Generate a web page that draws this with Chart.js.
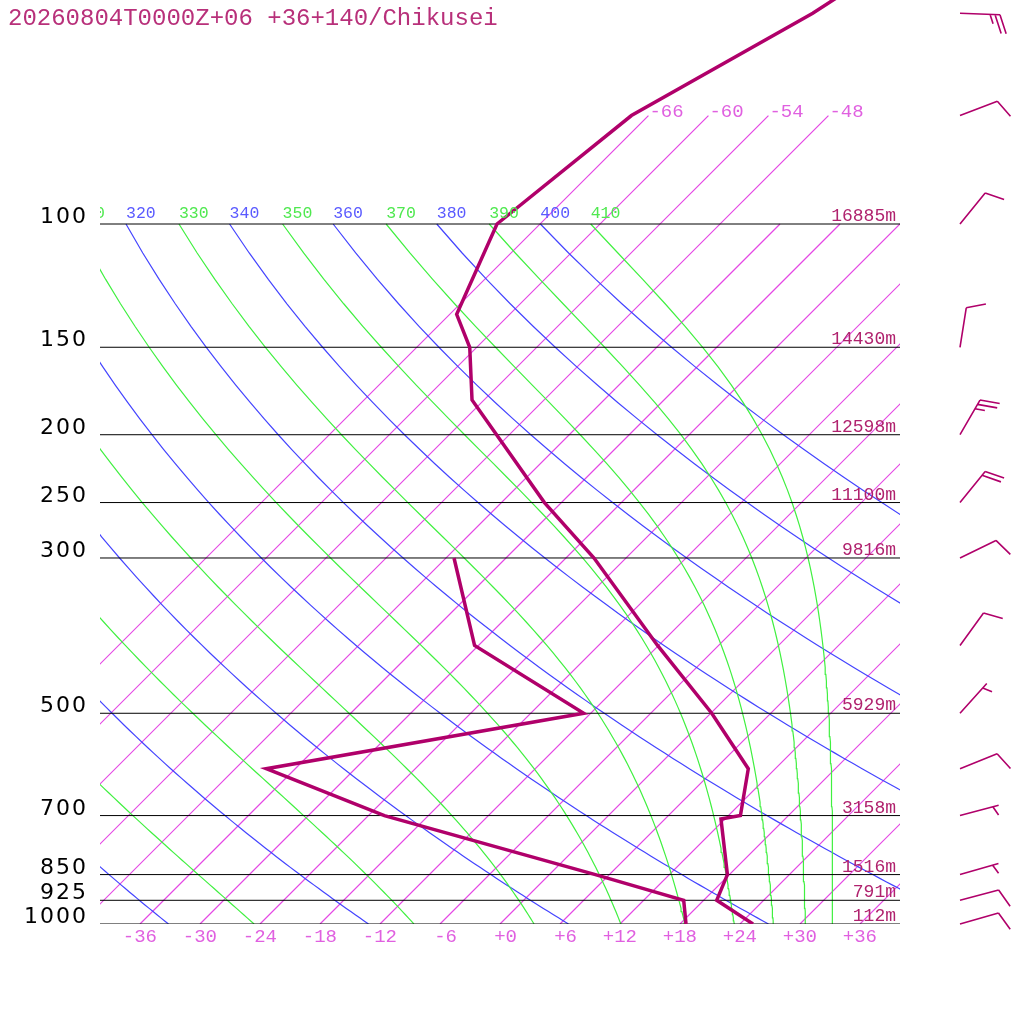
<!DOCTYPE html>
<html><head><meta charset="utf-8">
<script src="https://cdn.jsdelivr.net/npm/chart.js@4.4.1/dist/chart.umd.min.js"></script>
<style>html,body{margin:0;padding:0;background:#fff;}#wrap{width:1024px;height:1024px;}</style>
</head><body><div id="wrap"><canvas id="c" width="1024" height="1024"></canvas></div>
<script>
// ---------- data ----------
const titleText = "20260804T0000Z+06 +36+140/Chikusei";
const tempP = [30, 50, 70, 100, 134.6, 150, 178.4, 250, 300, 400, 500, 600, 700, 708, 850, 925, 1000];
const tempT = [-51.4, -59.8, -67.7, -70.3, -65.3, -60.7, -55.2, -37.7, -27.2, -12.1, 0.1, 9.3, 13.2, 11.6, 17.8, 19.3, 25.3];
const dewP = [300, 400, 500, 600, 700, 850, 925, 1000];
const dewT = [-41.2, -30.4, -12.7, -38.9, -22.4, 4.6, 16.0, 18.6];
const levelP = [100, 150, 200, 250, 300, 500, 700, 850, 925, 1000];
const levelLabels = ["100", "150", "200", "250", "300", "500", "700", "850", "925", "1000"];
const heightLabels = ["16885m", "14430m", "12598m", "11100m", "9816m", "5929m", "3158m", "1516m", "791m", "112m"];
const windP = [50, 70, 100, 150, 200, 250, 300, 400, 500, 600, 700, 850, 925, 1000];
const windDir = [92, 69, 39, 9, 30, 39, 64, 36, 42, 68, 75, 74, 75, 74];
const windSpd = [25, 10, 10, 10, 25, 20, 10, 10, 5, 10, 5, 5, 10, 10];
const isoT = [-66, -60, -54, -48, -42, -36, -30, -24, -18, -12, -6, 0, 6, 12, 18, 24, 30, 36];
const isoTopLabelT = [-66, -60, -54, -48];
const tickT = [-36, -30, -24, -18, -12, -6, 0, 6, 12, 18, 24, 30, 36];
const tickLabels = ["-36", "-30", "-24", "-18", "-12", "-6", "+0", "+6", "+12", "+18", "+24", "+30", "+36"];
const thetaDry = [240, 260, 280, 300, 320, 340, 360, 380, 400];
const thetaMoist = [250, 270, 290, 310, 330, 350, 370, 390, 410];

// ---------- diagram geometry ----------
const P_BOTTOM = 1000, P_ADIA_TOP = 100, P_ISO_TOP = 70;
const SKEW = 70; // degrees of skew per decade of pressure
const P_TOP = 1000 / Math.pow(10, 924 / 700);
function sx(T, p) { return T + SKEW * Math.log10(1000 / p); }

const pGrid = [];
for (let p = P_BOTTOM; p >= P_ADIA_TOP; p -= 10) pGrid.push(p);

function dryT(theta, p) { return theta * Math.pow(p / 1000, 0.2857) - 273.15; }
function thetaEB(Tc, p) {
  const TK = Tc + 273.15;
  const es = 6.112 * Math.exp(17.67 * Tc / (Tc + 243.5));
  if (es >= p * 0.9) return 1e9;
  const r = 622 * es / (p - es);
  return TK * Math.pow(1000 / p, 0.2854 * (1 - 0.00028 * r)) * Math.exp((3.376 / TK - 0.00254) * r * (1 + 0.00081 * r));
}
function moistT(thE, p) {
  let lo = -160, hi = 60;
  for (let i = 0; i < 60; i++) {
    const m = (lo + hi) / 2;
    if (thetaEB(m, p) < thE) lo = m; else hi = m;
  }
  return (lo + hi) / 2;
}

const COL = {
  profile: 'rgb(176,0,106)', iso: 'rgb(228,72,228)', dry: 'rgb(68,68,255)', moist: 'rgb(64,240,64)',
  isoLab: 'rgb(224,96,224)', dryLab: 'rgb(90,90,255)', moistLab: 'rgb(79,232,79)', hgt: 'rgb(176,34,110)', title: 'rgb(184,48,122)'
};

const datasets = [];
function addLine(points, color, width, order) {
  datasets.push({ data: points, borderColor: color, backgroundColor: color, borderWidth: width, pointRadius: 0,
    showLine: true, fill: false, tension: 0, order: order });
}
isoT.forEach(T => {
  const top = isoTopLabelT.includes(T) ? P_ISO_TOP : P_ADIA_TOP;
  addLine([{ x: sx(T, P_BOTTOM), y: P_BOTTOM }, { x: sx(T, top), y: top }], COL.iso, 1.2, 5);
});
thetaDry.forEach(th => addLine(pGrid.map(p => ({ x: sx(dryT(th, p), p), y: p })), COL.dry, 1.2, 4));
thetaMoist.forEach(th => addLine(pGrid.map(p => ({ x: sx(moistT(th, p), p), y: p })), COL.moist, 1.2, 3));
levelP.forEach(p => addLine([{ x: -40, y: p }, { x: 40, y: p }], 'rgb(0,0,0)', 1, 2));
addLine(dewP.map((p, i) => ({ x: sx(dewT[i], p), y: p })), COL.profile, 3.5, 1);
addLine(tempP.map((p, i) => ({ x: sx(tempT[i], p), y: p })), COL.profile, 3.5, 0);

const textPlugin = {
  id: 'skewtText',
  afterDraw(chart) {
    const ctx = chart.ctx, xs = chart.scales.x, ys = chart.scales.y, ca = chart.chartArea;
    ctx.save();
    ctx.font = '24px "Liberation Mono", monospace';
    ctx.fillStyle = COL.title; ctx.textAlign = 'left'; ctx.textBaseline = 'alphabetic';
    ctx.fillText(titleText, 8, 25);
    ctx.font = '22px "DejaVu Sans", sans-serif';
    ctx.letterSpacing = '2px';
    ctx.fillStyle = '#000'; ctx.textAlign = 'right';
    levelP.forEach((p, i) => ctx.fillText(levelLabels[i], 88, ys.getPixelForValue(p) - 1));
    ctx.letterSpacing = '0px';
    ctx.font = '18px "Liberation Mono", monospace';
    ctx.fillStyle = COL.hgt; ctx.textAlign = 'right';
    levelP.forEach((p, i) => ctx.fillText(heightLabels[i], 896, ys.getPixelForValue(p) - 3));
    ctx.font = '19px "Liberation Mono", monospace';
    ctx.fillStyle = COL.isoLab; ctx.textAlign = 'right';
    tickT.forEach((T, i) => ctx.fillText(tickLabels[i], xs.getPixelForValue(T) + 17, 942));
    ctx.textAlign = 'left';
    isoTopLabelT.forEach(T => {
      const x = xs.getPixelForValue(sx(T, P_ISO_TOP)), y = ys.getPixelForValue(P_ISO_TOP);
      ctx.fillText(String(T), x + 1, y + 1);
    });
    ctx.save();
    ctx.beginPath(); ctx.rect(ca.left, 0, ca.right - ca.left, 1024); ctx.clip();
    ctx.font = '16.5px "Liberation Mono", monospace';
    const yl = ys.getPixelForValue(P_ADIA_TOP) - 6;
    thetaDry.forEach(th => {
      ctx.fillStyle = COL.dryLab;
      ctx.fillText(String(th), xs.getPixelForValue(sx(dryT(th, P_ADIA_TOP), P_ADIA_TOP)), yl);
    });
    thetaMoist.forEach(th => {
      ctx.fillStyle = COL.moistLab;
      ctx.fillText(String(th), xs.getPixelForValue(sx(moistT(th, P_ADIA_TOP), P_ADIA_TOP)), yl);
    });
    ctx.restore();
    ctx.strokeStyle = COL.profile; ctx.lineWidth = 1.6; ctx.lineCap = 'butt';
    windP.forEach((p, i) => {
      const x0 = 960, y0 = ys.getPixelForValue(p);
      const a = (windDir[i] - 90) * Math.PI / 180;
      const ux = Math.cos(a), uy = Math.sin(a);
      const b = a + 70 * Math.PI / 180, bx = Math.cos(b), by = Math.sin(b);
      const tx = x0 + 40 * ux, ty = y0 + 40 * uy;
      ctx.beginPath(); ctx.moveTo(x0, y0); ctx.lineTo(tx, ty);
      const full = Math.floor(windSpd[i] / 10), half = (windSpd[i] % 10) >= 5;
      let pos = 0;
      for (let k = 0; k < full; k++) {
        const sxp = tx - pos * ux, syp = ty - pos * uy;
        ctx.moveTo(sxp, syp); ctx.lineTo(sxp + 20 * bx, syp + 20 * by);
        pos += 5;
      }
      if (half) {
        if (full === 0) pos = 6;
        const sxp = tx - pos * ux, syp = ty - pos * uy;
        ctx.moveTo(sxp, syp); ctx.lineTo(sxp + 10 * bx, syp + 10 * by);
      }
      ctx.stroke();
    });
    ctx.restore();
  }
};

new Chart(document.getElementById('c'), {
  type: 'scatter',
  data: { datasets: datasets },
  options: {
    responsive: false, animation: false, devicePixelRatio: 1, events: [],
    layout: { padding: { left: 100, right: 124, top: 0, bottom: 100 } },
    plugins: { legend: { display: false }, tooltip: { enabled: false } },
    scales: {
      x: { type: 'linear', min: -40, max: 40, display: false },
      y: { type: 'logarithmic', min: P_TOP, max: 1000, reverse: true, display: false }
    }
  },
  plugins: [textPlugin]
});
</script></body></html>
